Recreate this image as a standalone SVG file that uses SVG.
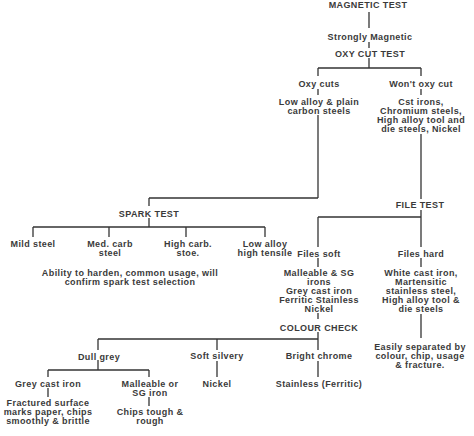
<svg xmlns="http://www.w3.org/2000/svg" width="474" height="436" viewBox="0 0 474 436">
<style>
text{font-family:"Liberation Sans",Arial,sans-serif;font-size:9px;letter-spacing:0.4px;font-weight:bold;fill:#3a3a3a;text-anchor:middle}
.c line{stroke:#333;stroke-width:1.3}
</style>
<rect width="474" height="436" fill="#fff"/>
<g class="c" id="connectors">
<line x1="369" y1="12" x2="369" y2="28"/>
<line x1="369" y1="42" x2="369" y2="48"/>
<line x1="369" y1="58" x2="369" y2="68"/>
<line x1="318" y1="68" x2="421" y2="68"/>
<line x1="318" y1="68" x2="318" y2="76"/>
<line x1="421" y1="68" x2="421" y2="76"/>
<line x1="318" y1="89" x2="318" y2="95"/>
<line x1="421" y1="89" x2="421" y2="95"/>
<line x1="318" y1="115" x2="318" y2="198"/>
<line x1="149" y1="198" x2="318" y2="198"/>
<line x1="149" y1="198" x2="149" y2="206"/>
<line x1="149" y1="218" x2="149" y2="227"/>
<line x1="33" y1="227" x2="265" y2="227"/>
<line x1="33" y1="227" x2="33" y2="237"/>
<line x1="109" y1="227" x2="109" y2="237"/>
<line x1="186" y1="227" x2="186" y2="237"/>
<line x1="265" y1="227" x2="265" y2="237"/>
<line x1="421" y1="134" x2="421" y2="199"/>
<line x1="421" y1="210" x2="421" y2="247"/>
<line x1="318" y1="217" x2="421" y2="217"/>
<line x1="318" y1="217" x2="318" y2="247"/>
<line x1="318" y1="258" x2="318" y2="267"/>
<line x1="421" y1="258" x2="421" y2="267"/>
<line x1="318" y1="313" x2="318" y2="319"/>
<line x1="421" y1="314" x2="421" y2="338"/>
<line x1="318" y1="332" x2="318" y2="350"/>
<line x1="98" y1="339" x2="318" y2="339"/>
<line x1="98" y1="339" x2="98" y2="350"/>
<line x1="217" y1="339" x2="217" y2="350"/>
<line x1="318" y1="361" x2="318" y2="377"/>
<line x1="217" y1="361" x2="217" y2="377"/>
<line x1="98" y1="360" x2="98" y2="370"/>
<line x1="48" y1="370" x2="149" y2="370"/>
<line x1="48" y1="370" x2="48" y2="377"/>
<line x1="149" y1="370" x2="149" y2="377"/>
<line x1="48" y1="388" x2="48" y2="397"/>
<line x1="149" y1="397" x2="149" y2="406"/>
</g>
<g id="magnetic-test"><text x="368" y="8">MAGNETIC TEST</text></g>
<g id="strongly-magnetic"><text x="370" y="39.5">Strongly Magnetic</text></g>
<g id="oxy-cut-test"><text x="370" y="56.5">OXY CUT TEST</text></g>
<g id="oxy-cuts"><text x="319" y="86.5">Oxy cuts</text></g>
<g id="wont-oxy-cut"><text x="421" y="86.5">Won't oxy cut</text></g>
<g id="low-alloy-plain"><text x="319" y="105">Low alloy &amp; plain</text><text x="319" y="114">carbon steels</text></g>
<g id="cst-irons"><text x="421" y="105">Cst irons,</text><text x="421" y="114">Chromium steels,</text><text x="421" y="123">High alloy tool and</text><text x="421" y="132">die steels, Nickel</text></g>
<g id="spark-test"><text x="149" y="216.5">SPARK TEST</text></g>
<g id="file-test"><text x="420" y="207.5">FILE TEST</text></g>
<g id="mild-steel"><text x="33" y="246.5">Mild steel</text></g>
<g id="med-carb"><text x="110" y="246.5">Med. carb</text><text x="110" y="256">steel</text></g>
<g id="high-carb"><text x="188" y="246.5">High carb.</text><text x="188" y="256">stoe.</text></g>
<g id="low-alloy-ht"><text x="265" y="246.5">Low alloy</text><text x="265" y="255.5">high tensile</text></g>
<g id="spark-note"><text x="130" y="275.5">Ability to harden, common usage, will</text><text x="130" y="284.5">confirm spark test selection</text></g>
<g id="files-soft"><text x="319" y="256.5">Files soft</text></g>
<g id="files-hard"><text x="421" y="256.5">Files hard</text></g>
<g id="soft-group"><text x="319" y="275.5">Malleable &amp; SG</text><text x="319" y="284.5">irons</text><text x="319" y="294">Grey cast iron</text><text x="319" y="303">Ferritic Stainless</text><text x="319" y="312">Nickel</text></g>
<g id="hard-group"><text x="421" y="275.5">White cast iron,</text><text x="421" y="284.5">Martensitic</text><text x="421" y="294">stainless steel,</text><text x="421" y="303">High alloy tool &amp;</text><text x="421" y="312">die steels</text></g>
<g id="colour-check"><text x="319" y="330.5">COLOUR CHECK</text></g>
<g id="easily-separated"><text x="420" y="350">Easily separated by</text><text x="420" y="359">colour, chip, usage</text><text x="420" y="368">&amp; fracture.</text></g>
<g id="dull-grey"><text x="99" y="359.5">Dull grey</text></g>
<g id="soft-silvery"><text x="217" y="358.5">Soft silvery</text></g>
<g id="bright-chrome"><text x="319" y="358.5">Bright chrome</text></g>
<g id="nickel"><text x="217" y="386.5">Nickel</text></g>
<g id="stainless-ferritic"><text x="319" y="386.5">Stainless (Ferritic)</text></g>
<g id="grey-cast-iron"><text x="48" y="386.5">Grey cast iron</text></g>
<g id="malleable-sg"><text x="150" y="386.5">Malleable or</text><text x="150" y="395.5">SG iron</text></g>
<g id="fractured"><text x="48" y="405.5">Fractured surface</text><text x="48" y="414.5">marks paper, chips</text><text x="48" y="423.5">smoothly &amp; brittle</text></g>
<g id="chips-tough"><text x="150" y="414.5">Chips tough &amp;</text><text x="150" y="423.5">rough</text></g>
</svg>
